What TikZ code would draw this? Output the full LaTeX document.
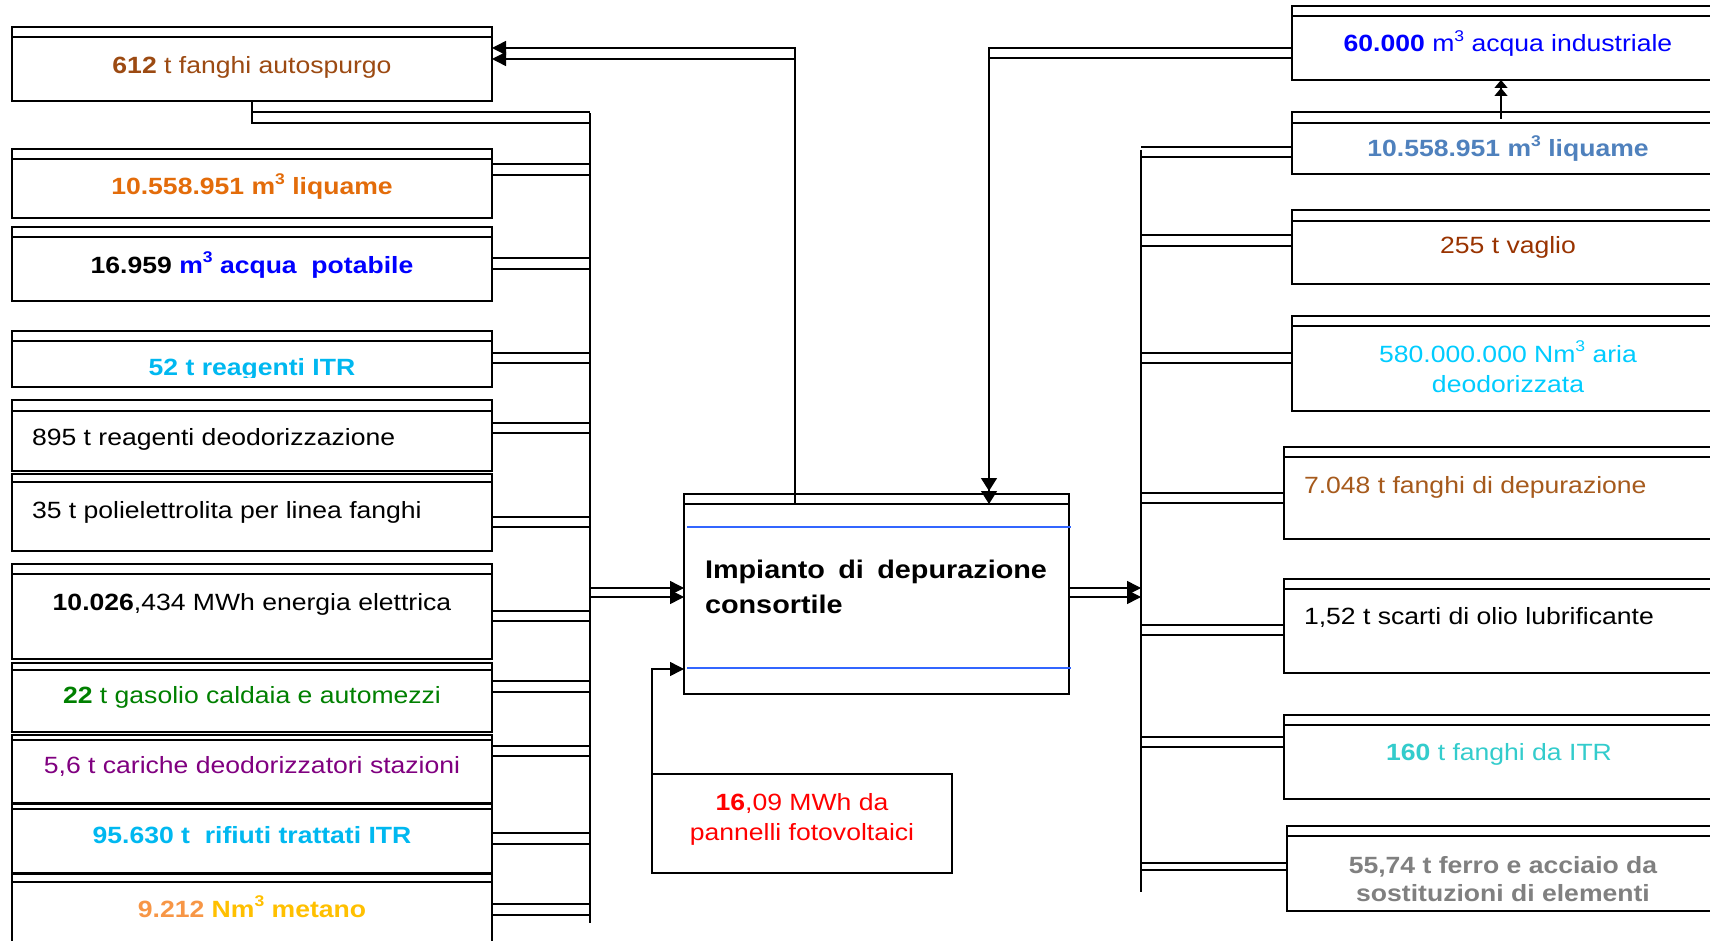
\documentclass[tikz,border=0pt]{standalone}
\usepackage{fontspec}
\setmainfont{Liberation Sans}[FakeStretch=1.13]
\usetikzlibrary{arrows.meta}
\definecolor{cBrown}{HTML}{9C4A12}
\definecolor{cBrownB}{HTML}{993300}
\definecolor{cBrownC}{HTML}{A65A1C}
\definecolor{cOrange}{HTML}{E36C0A}
\definecolor{cBlue}{HTML}{0000FF}
\definecolor{cSky}{HTML}{00B8F0}
\definecolor{cGreen}{HTML}{008000}
\definecolor{cPurple}{HTML}{800080}
\definecolor{cLtOrange}{HTML}{F79646}
\definecolor{cGold}{HTML}{FFC000}
\definecolor{cSteel}{HTML}{4F81BD}
\definecolor{cCyan}{HTML}{00CCFF}
\definecolor{cTurq}{HTML}{33CCCC}
\definecolor{cGray}{HTML}{808080}
\definecolor{cRed}{HTML}{FF0000}
\definecolor{cLine}{HTML}{3366FF}
\newcommand\cube{\raisebox{0.45em}{\fontsize{15.5}{15.5}\selectfont 3}}
\tikzset{
  boxsty/.style={draw, line width=1.6pt, inner sep=0pt, outer sep=0pt},
  stripsty/.style={line width=1.3pt},
  conn/.style={line width=1.5pt},
  arr/.style={-{Triangle[length=14pt,width=14pt]}},
  darr/.style={-{Triangle[length=13pt,width=16pt,sep=0pt]Triangle[length=13pt,width=16pt]}},
  sarr/.style={-{Triangle[length=8pt,width=13pt,sep=0pt]Triangle[length=8pt,width=13pt]}},
  lbl/.style={inner sep=0pt, outer sep=0pt, font=\fontsize{23.5}{30}\selectfont},
  blbl/.style={inner sep=0pt, outer sep=0pt, font=\fontsize{25.5}{33}\selectfont\bfseries},
  blueline/.style={draw=cLine, line width=1.5pt}
}
% name x1 y1 x2 y2 strip
\newcommand\mkbox[6]{%
  \node[boxsty, minimum width={(#4)-(#2)}, minimum height={(#5)-(#3)}, anchor=north west] (#1) at (#2,#3) {};
  \draw[stripsty] (#2,#6) -- (#4,#6);}
\begin{document}
\begin{tikzpicture}[x=1pt,y=-1pt]
\clip (0,0) rectangle (1710,941);
\fill[white] (0,0) rectangle (1710,941);

% ---------- left boxes ----------
\mkbox{L1}{12}{27}{492}{101}{37}
\mkbox{L2}{12}{149}{492}{218}{159}
\mkbox{L3}{12}{227}{492}{301}{237}
\mkbox{L4}{12}{331}{492}{387}{341}
\mkbox{L5}{12}{400}{492}{471}{411}
\mkbox{L6}{12}{474}{492}{551}{482}
\mkbox{L7}{12}{564}{492}{659}{574}
\mkbox{L8}{12}{663}{492}{732}{670}
\mkbox{L9}{12}{735}{492}{803}{740}
\mkbox{L10}{12}{804}{492}{873}{809}
\mkbox{L11}{12}{874}{492}{960}{882}

\node[lbl, anchor=base, text=cBrown] (t1) at (252,74) {\textbf{612} t fanghi autospurgo};
\node[lbl, anchor=base, text=cOrange] (t2) at (252,195) {\bfseries 10.558.951 m\cube{} liquame};
\node[lbl, anchor=base] (t3) at (252,273) {\bfseries 16.959 \textcolor{cBlue}{m\cube{} acqua\ \ potabile}};
\begin{scope}
  \clip (12,341) rectangle (492,377);
  \node[lbl, anchor=base, text=cSky] (t4) at (252,375) {\bfseries 52 t reagenti ITR};
\end{scope}
\node[lbl, anchor=base west] (t5) at (32,445) {895 t reagenti deodorizzazione};
\node[lbl, anchor=base west] (t6) at (32,518) {35 t polielettrolita per linea fanghi};
\node[lbl, anchor=base] (t7) at (252,610) {\textbf{10.026},434 MWh energia elettrica};
\node[lbl, anchor=base, text=cGreen] (t8) at (252,703) {\textbf{22} t gasolio caldaia e automezzi};
\node[lbl, anchor=base, text=cPurple] (t9) at (252,773) {5,6 t cariche deodorizzatori stazioni};
\node[lbl, anchor=base, text=cSky] (t10) at (252,843) {\bfseries 95.630 t\ \ rifiuti trattati ITR};
\node[lbl, anchor=base] (t11) at (252,917) {\bfseries\textcolor{cLtOrange}{9.212} \textcolor{cGold}{Nm\cube{} metano}};

% ---------- central box ----------
\mkbox{C}{684}{494}{1069}{694}{504}
\coordinate (Cin) at (684,504);
\draw[blueline] (687,527) -- (1071,527);
\draw[blueline] (687,668) -- (1071,668);
\node[blbl, anchor=base west] (c1) at (705,578) {\makebox[342pt][l]{Impianto\hfill di\hfill depurazione}};
\node[blbl, anchor=base west] (c2) at (705,613) {consortile};

% ---------- PV box ----------
\mkbox{PV}{652}{774}{952}{873}{774}
\node[lbl, anchor=base, text=cRed] (p1) at (802,810) {\textbf{16},09 MWh da};
\node[lbl, anchor=base, text=cRed] (p2) at (802,840) {pannelli fotovoltaici};

% ---------- right boxes ----------
\mkbox{R1}{1292}{6}{1730}{80}{16}
\mkbox{R2}{1292}{112}{1730}{174}{123}
\mkbox{R3}{1292}{210}{1730}{284}{221}
\mkbox{R4}{1292}{316}{1730}{411}{326}
\mkbox{R5}{1284}{447}{1730}{539}{457}
\mkbox{R6}{1284}{579}{1730}{673}{589}
\mkbox{R7}{1284}{715}{1730}{799}{725}
\mkbox{R8}{1287}{826}{1730}{911}{836}

\node[lbl, anchor=base, text=cBlue] (r1) at (1508,52) {\textbf{60.000} m\cube{} acqua industriale};
\node[lbl, anchor=base, text=cSteel] (r2) at (1508,157) {\bfseries 10.558.951 m\cube{} liquame};
\node[lbl, anchor=base, text=cBrownB] (r3) at (1508,254) {255 t vaglio};
\node[lbl, anchor=base, text=cCyan] (r4a) at (1508,362) {580.000.000 Nm\cube{} aria};
\node[lbl, anchor=base, text=cCyan] (r4b) at (1508,392) {deodorizzata};
\node[lbl, anchor=base west, text=cBrownC] (r5) at (1304,493) {7.048 t fanghi di depurazione};
\node[lbl, anchor=base west] (r6) at (1304,624) {1,52 t scarti di olio lubrificante};
\node[lbl, anchor=base, text=cTurq] (r7) at (1499,760) {\textbf{160} t fanghi da ITR};
\node[lbl, anchor=base, text=cGray] (r8a) at (1503,873) {\bfseries 55,74 t ferro e acciaio da};
\begin{scope}
  \clip (1287,836) rectangle (1710,902);
  \node[lbl, anchor=base, text=cGray] (r8b) at (1503,901) {\bfseries sostituzioni di elementi};
\end{scope}

% ---------- left bus and links ----------
\coordinate (lbusT) at (590,113);
\coordinate (lbusB) at (590,923);
\draw[conn] (lbusT) -- (lbusB);
\draw[conn] (L1.south) |- (lbusT |- 0,123);
\draw[conn] (L1.south |- 0,112) -- (lbusT |- 0,112);
\foreach \n/\ya/\yb in {L2/164/175, L3/258/269, L4/353/363, L5/423/433, L6/517/527,
                        L7/611/621, L8/681/692, L9/746/756, L10/833/844, L11/904/915} {
  \draw[conn] (\n.east |- 0,\ya) -- (lbusT |- 0,\ya);
  \draw[conn] (\n.east |- 0,\yb) -- (lbusT |- 0,\yb);
}
\draw[conn, arr] (lbusT |- 0,588) -- (C.west |- 0,588);
\draw[conn, arr] (lbusT |- 0,597) -- (C.west |- 0,597);

% back to L1
\draw[conn, arr] (Cin -| 795,0) |- (L1.east |- 0,48);
\draw[conn, arr] (795,59) -- (L1.east |- 0,59);

% PV to central
\draw[conn, arr] (PV.north west) |- (C.west |- 0,669);

% ---------- right bus and links ----------
\coordinate (rbusT) at (1141,150);
\coordinate (rbusB) at (1141,892);
\draw[conn] (rbusT) -- (rbusB);
\draw[conn, arr] (C.east |- 0,588) -- (rbusT |- 0,588);
\draw[conn, arr] (C.east |- 0,597) -- (rbusT |- 0,597);
\foreach \n/\ya/\yb in {R2/147/157, R3/235/246, R4/353/363, R5/493/503,
                        R6/625/635, R7/737/747, R8/863/870} {
  \draw[conn] (rbusT |- 0,\ya) -- (\n.west |- 0,\ya);
  \draw[conn] (rbusT |- 0,\yb) -- (\n.west |- 0,\yb);
}

% R1 to central
\draw[conn, darr] (R1.west |- 0,48) -| (Cin -| 989,0);
\draw[conn] (R1.west |- 0,58) -- (989,58);

% R2 to R1
\draw[conn, sarr] (R2.north -| 1501,0) ++(0,7) -- (R1.south -| 1501,0);
\end{tikzpicture}
\end{document}
